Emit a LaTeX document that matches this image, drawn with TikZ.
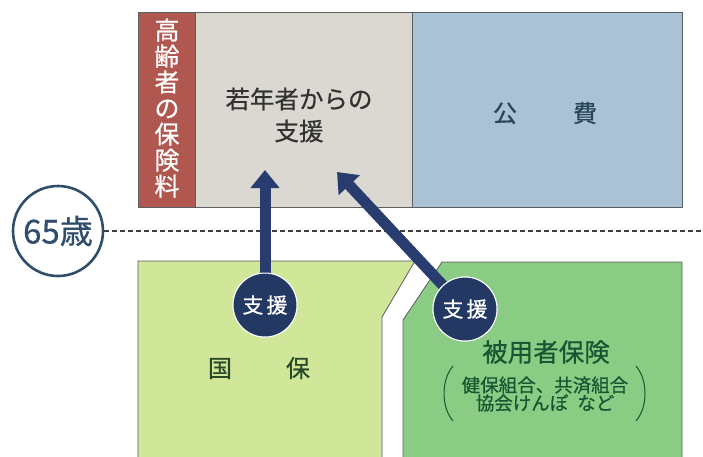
\documentclass[tikz,border=0pt]{standalone}
\usepackage{fontspec}
\setmainfont{Noto Sans CJK JP}
\newfontfamily\medfont{Noto Sans CJK JP}[FakeBold=0.6]
\usetikzlibrary{arrows.meta}
\definecolor{redc}{RGB}{176,88,80}
\definecolor{greyc}{RGB}{218,216,208}
\definecolor{bluec}{RGB}{170,194,212}
\definecolor{lgreen}{RGB}{208,230,152}
\definecolor{dgreen}{RGB}{138,204,132}
\definecolor{navy}{RGB}{40,60,112}
\definecolor{navyfill}{RGB}{36,56,100}
\definecolor{ringc}{RGB}{48,78,108}
\definecolor{edgec}{RGB}{90,95,95}
\definecolor{txtgrey}{RGB}{50,50,50}
\definecolor{txtblue}{RGB}{40,68,88}
\definecolor{txtlg}{RGB}{40,72,40}
\definecolor{txtdg}{RGB}{25,85,50}
\tikzset{
  topbox/.style={draw=edgec, line width=0.8pt, inner sep=0pt, minimum height=195pt},
  lowbox/.style={draw=edgec, line width=0.8pt},
  label/.style={inner sep=0pt, align=center},
  arr/.style={navy, line width=11pt, -{Triangle[width=28pt,length=18pt]}},
  helpdot/.style={circle, fill=navyfill, draw=white, line width=1pt, minimum size=64pt, inner sep=0pt,
     text=white, font=\medfont\fontsize{21}{22}\selectfont},
  agering/.style={circle, draw=ringc, line width=2.6pt, fill=white, minimum size=90pt, inner sep=0pt,
     text=ringc, font=\medfont\fontsize{33}{34}\selectfont},
  cutline/.style={black!75, line width=1.4pt, dash pattern=on 5pt off 3pt}
}
\begin{document}
\begin{tikzpicture}[x=1pt,y=-1pt]
\useasboundingbox (0,0) rectangle (703,456);
\clip (0,0) rectangle (703,456);
\fill[white] (0,0) rectangle (703,456);

% top row
\node[topbox, fill=redc, minimum width=57pt] (red) at (166.5,109.5) {};
\node[topbox, fill=greyc, minimum width=217pt] (grey) at (303.5,109.5) {};
\node[topbox, fill=bluec, minimum width=270pt] (blue) at (547,109.5) {};

\node[label, text=white, font=\medfont\fontsize{25}{26}\selectfont] (redtxt) at (167,108)
  {高\\齢\\者\\の\\保\\険\\料};
\node[label, text=txtgrey, font=\medfont\fontsize{24.5}{32}\selectfont] (greytxt) at (299,115)
  {若年者からの\\支援};
\node[label, text=txtblue, font=\medfont\fontsize{24}{26}\selectfont] (bluetxt) at (545,113)
  {公\hspace{56pt}費};

% bottom boxes
\fill[lgreen] (138,261) -- (415,261) -- (382,317) -- (382,470) -- (138,470) -- cycle;
\draw[lowbox] (138,470) -- (138,261) -- (415,261) -- (382,317) -- (382,470);
\fill[dgreen] (442,262) -- (682,262) -- (682,470) -- (403,470) -- (403,320) -- cycle;
\draw[lowbox] (682,470) -- (682,262) -- (442,262) -- (403,320) -- (403,470);

\node[label, text=txtlg, font=\medfont\fontsize{24}{26}\selectfont] (kokuho) at (259,368)
  {国\hspace{54pt}保};
\node[label, text=txtdg, font=\medfont\fontsize{25.5}{27}\selectfont] (hiyo) at (546,352) {被用者保険};
\node[label, text=txtdg, font=\medfont\fontsize{18.5}{18}\selectfont] (kumiai) at (545,394)
  {健保組合、共済組合\\協会けんぽ\hspace{9pt}など};
\coordinate (lp1) at (453,366);
\coordinate (lp2) at (453,421);
\coordinate (rp1) at (636,366);
\coordinate (rp2) at (636,421);
\draw[txtdg, line width=1pt] (lp1) .. controls (441,380) and (441,407) .. (lp2);
\draw[txtdg, line width=1pt] (rp1) .. controls (648,380) and (648,407) .. (rp2);

% 65 line
\node[agering] (age) at (58,231) {65歳};
\coordinate (dend) at (703,231);
\draw[cutline] (age) -- (dend);

% arrows
\node[helpdot] (s1) at (265,305) {支\hspace{3pt}援};
\node[helpdot] (s2) at (465,309) {支\hspace{3pt}援};
\coordinate (t1) at (265,170);
\coordinate (t2) at (337,172);
\draw[arr] (s1) -- (t1);
\draw[arr] (s2) -- (t2);
\node[helpdot] at (s1) {支\hspace{3pt}援};
\node[helpdot] at (s2) {支\hspace{3pt}援};
\end{tikzpicture}
\end{document}
